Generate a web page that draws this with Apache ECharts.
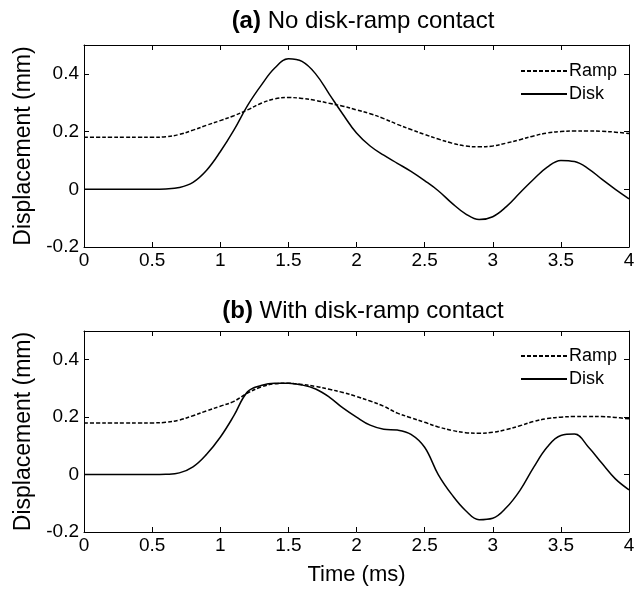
<!DOCTYPE html>
<html>
<head>
<meta charset="utf-8">
<script src="https://cdn.jsdelivr.net/npm/echarts@6/dist/echarts.min.js"></script>
<style>
  html, body { margin: 0; padding: 0; background: #fff; }
  #chart { width: 640px; height: 589px; }
</style>
</head>
<body>
<div id="chart"></div>
<script>
// time axis (ms), sampled every 0.1 ms
var time = [0, 0.1, 0.2, 0.3, 0.4, 0.5, 0.6, 0.7, 0.8, 0.9, 1.0, 1.1, 1.2, 1.3, 1.4, 1.5, 1.6, 1.7, 1.8, 1.9, 2.0,
  2.1, 2.2, 2.3, 2.4, 2.5, 2.6, 2.7, 2.8, 2.9, 3.0, 3.1, 3.2, 3.3, 3.4, 3.5, 3.6, 3.7, 3.8, 3.9, 4.0];

// (a) no disk-ramp contact
var rampA = [0.18, 0.18, 0.18, 0.18, 0.18, 0.18, 0.182, 0.19, 0.205, 0.222, 0.238, 0.255, 0.275, 0.298, 0.313, 0.318,
  0.315, 0.308, 0.298, 0.288, 0.275, 0.262, 0.245, 0.225, 0.207, 0.19, 0.174, 0.16, 0.15, 0.147, 0.15,
  0.16, 0.172, 0.185, 0.195, 0.2, 0.202, 0.202, 0.201, 0.198, 0.193];
var diskA = [0, 0, 0, 0, 0, 0, 0.001, 0.006, 0.024, 0.066, 0.13, 0.205, 0.29, 0.36, 0.42, 0.452,
  0.443, 0.4, 0.33, 0.26, 0.195, 0.15, 0.118, 0.09, 0.062, 0.03, -0.005, -0.048, -0.085, -0.105, -0.095,
  -0.06, -0.012, 0.035, 0.077, 0.1, 0.096, 0.072, 0.035, 0.0, -0.033];

// (b) with disk-ramp contact
var rampB = [0.18, 0.18, 0.18, 0.18, 0.18, 0.18, 0.182, 0.19, 0.205, 0.222, 0.238, 0.255, 0.284, 0.305, 0.316, 0.318,
  0.314, 0.307, 0.297, 0.286, 0.272, 0.256, 0.238, 0.214, 0.198, 0.182, 0.166, 0.154, 0.146, 0.144, 0.147,
  0.157, 0.17, 0.185, 0.195, 0.2, 0.202, 0.202, 0.202, 0.199, 0.194];
var diskB = [0, 0, 0, 0, 0, 0, 0.001, 0.006, 0.027, 0.071, 0.13, 0.205, 0.288, 0.31, 0.318, 0.318,
  0.312, 0.298, 0.27, 0.232, 0.2, 0.172, 0.158, 0.155, 0.14, 0.095, 0.0, -0.07, -0.125, -0.157, -0.152,
  -0.115, -0.055, 0.025, 0.096, 0.136, 0.141, 0.097, 0.04, -0.015, -0.053];

var xTicks = { min: 0, max: 4, interval: 0.5 };
var yTicks = { min: -0.2, max: 0.5, interval: 0.2 };

function pairs(ys) {
  return time.map(function (t, i) { return [t, ys[i]]; });
}

var FONT = 'Liberation Sans';
var axisLine = { show: true, onZero: false, lineStyle: { color: '#000', width: 1 } };
var tick = { show: true, inside: true, length: 5, lineStyle: { color: '#000' } };

function xAxes(grid, withName) {
  return [{
    type: 'value', gridIndex: grid, position: 'bottom',
    min: xTicks.min, max: xTicks.max, interval: xTicks.interval,
    axisLine: axisLine, axisTick: tick, splitLine: { show: false },
    axisLabel: { color: '#000', fontSize: 19, fontFamily: FONT, margin: 4 },
    name: withName ? 'Time (ms)' : '', nameLocation: 'middle', nameGap: 32,
    nameTextStyle: { color: '#000', fontSize: 22, fontFamily: FONT }
  }, {
    type: 'value', gridIndex: grid, position: 'top',
    min: xTicks.min, max: xTicks.max, interval: xTicks.interval,
    axisLine: axisLine, axisTick: tick, axisLabel: { show: false }, splitLine: { show: false }
  }];
}

function yAxes(grid) {
  return [{
    type: 'value', gridIndex: grid, position: 'left',
    min: yTicks.min, max: yTicks.max, interval: yTicks.interval,
    axisLine: axisLine, axisTick: tick, splitLine: { show: false },
    axisLabel: { color: '#000', fontSize: 19, fontFamily: FONT, margin: 5, showMaxLabel: false },
    name: 'Displacement (mm)', nameLocation: 'middle', nameRotate: 90, nameGap: 46,
    nameTextStyle: { color: '#000', fontSize: 23, fontFamily: FONT }
  }, {
    type: 'value', gridIndex: grid, position: 'right',
    min: yTicks.min, max: yTicks.max, interval: yTicks.interval,
    axisLine: axisLine, axisTick: tick, axisLabel: { show: false }, splitLine: { show: false }
  }];
}

function line(name, data, xi, yi, dashed) {
  return {
    name: name, type: 'line', xAxisIndex: xi, yAxisIndex: yi,
    data: pairs(data), smooth: 0.4, symbol: 'none',
    lineStyle: { color: '#000', width: 1.5, type: dashed ? [4, 2] : 'solid' },
    itemStyle: { color: '#000' }
  };
}

function legend(top) {
  return {
    orient: 'vertical', left: 515, top: top, itemWidth: 46, itemHeight: 14, itemGap: 5,
    data: ['Ramp', 'Disk'],
    itemStyle: { opacity: 0 },
    textStyle: { color: '#000', fontSize: 18, fontFamily: FONT, padding: [0, 0, 0, -3] }
  };
}

var chart = echarts.init(document.getElementById('chart'));
chart.setOption({
  animation: false,
  backgroundColor: '#fff',
  title: [{
    text: '{b|(a)} No disk-ramp contact', left: 358, top: 4, textAlign: 'center',
    textStyle: { fontSize: 24, fontWeight: 'normal', color: '#000', fontFamily: FONT,
      rich: { b: { fontSize: 24, fontWeight: 'bold', fontFamily: FONT } } }
  }, {
    text: '{b|(b)} With disk-ramp contact', left: 358, top: 294, textAlign: 'center',
    textStyle: { fontSize: 24, fontWeight: 'normal', color: '#000', fontFamily: FONT,
      rich: { b: { fontSize: 24, fontWeight: 'bold', fontFamily: FONT } } }
  }],
  legend: [legend(57), legend(342)],
  grid: [
    { left: 84, right: 11, top: 45, height: 202 },
    { left: 84, right: 11, top: 331, height: 201 }
  ],
  xAxis: xAxes(0, false).concat(xAxes(1, true)),
  yAxis: yAxes(0).concat(yAxes(1)),
  series: [
    line('Ramp', rampA, 0, 0, true),
    line('Disk', diskA, 0, 0, false),
    line('Ramp', rampB, 2, 2, true),
    line('Disk', diskB, 2, 2, false)
  ]
});
</script>
</body>
</html>
